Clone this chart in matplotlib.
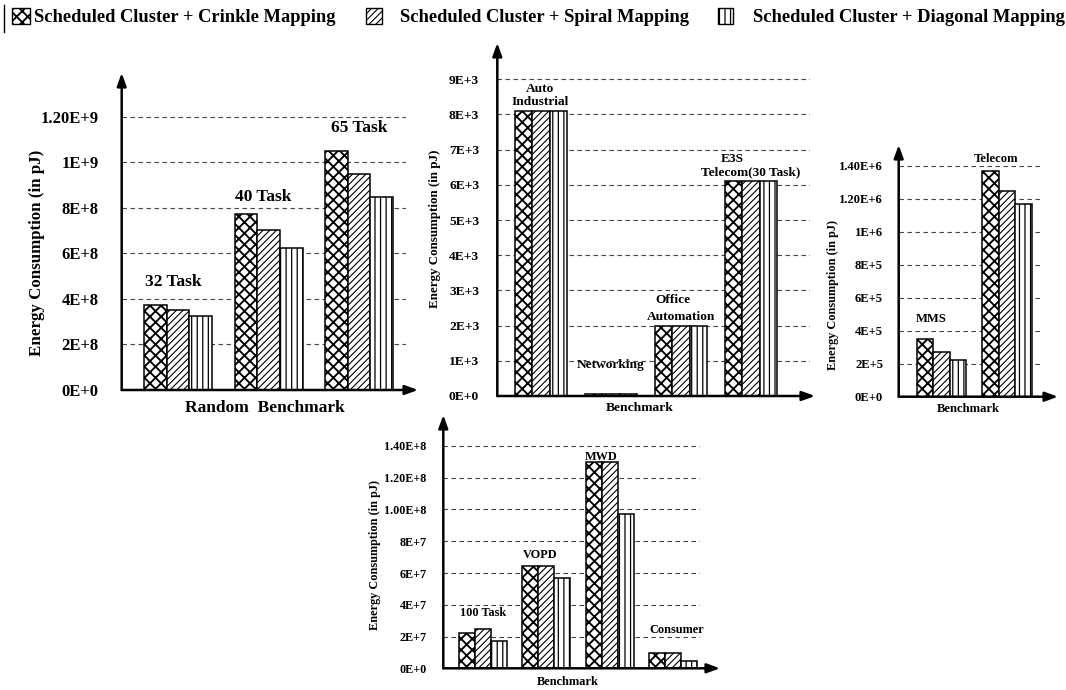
import matplotlib
matplotlib.use("Agg")
import matplotlib.pyplot as plt
from matplotlib.transforms import Affine2D
from matplotlib.patches import Rectangle
from matplotlib.lines import Line2D
import numpy as np

W, H = 1066, 690

# ---------------------------------------------------------------- data
series_names = [
    "Scheduled Cluster + Crinkle Mapping",
    "Scheduled Cluster + Spiral Mapping",
    "Scheduled Cluster + Diagonal Mapping",
]

# Random benchmark
random_groups = ["32 Task", "40 Task", "65 Task"]
random_crinkle = [3.73e8, 7.73e8, 1.049e9]
random_spiral = [3.51e8, 7.01e8, 9.48e8]
random_diagonal = [3.25e8, 6.25e8, 8.49e8]
random_ticks = [0, 2e8, 4e8, 6e8, 8e8, 1e9, 1.2e9]
random_ticklabels = ["0E+0", "2E+8", "4E+8", "6E+8", "8E+8", "1E+9", "1.20E+9"]

# E3S benchmark suites
e3s_groups = [["Auto", "Industrial"], ["Networking"], ["Office", "Automation"],
              ["E3S", "Telecom(30 Task)"]]
e3s_crinkle = [8.10e3, 60, 2.00e3, 6.12e3]
e3s_spiral = [8.10e3, 55, 2.00e3, 6.12e3]
e3s_diagonal = [8.10e3, 50, 2.00e3, 6.12e3]
e3s_ticks = [0, 1e3, 2e3, 3e3, 4e3, 5e3, 6e3, 7e3, 8e3, 9e3]
e3s_ticklabels = ["0E+0", "1E+3", "2E+3", "3E+3", "4E+3", "5E+3", "6E+3",
                  "7E+3", "8E+3", "9E+3"]

# MMS / Telecom
mms_groups = [["MMS"], ["Telecom"]]
mms_crinkle = [3.48e5, 1.370e6]
mms_spiral = [2.73e5, 1.246e6]
mms_diagonal = [2.25e5, 1.169e6]
mms_ticks = [0, 2e5, 4e5, 6e5, 8e5, 1e6, 1.2e6, 1.4e6]
mms_ticklabels = ["0E+0", "2E+5", "4E+5", "6E+5", "8E+5", "1E+6", "1.20E+6", "1.40E+6"]

# Multimedia benchmarks
media_groups = [["100 Task"], ["VOPD"], ["MWD"], ["Consumer"]]
media_crinkle = [2.20e7, 6.46e7, 1.301e8, 9.4e6]
media_spiral = [2.46e7, 6.46e7, 1.301e8, 9.4e6]
media_diagonal = [1.72e7, 5.69e7, 9.72e7, 4.4e6]
media_ticks = [0, 2e7, 4e7, 6e7, 8e7, 1e8, 1.2e8, 1.4e8]
media_ticklabels = ["0E+0", "2E+7", "4E+7", "6E+7", "8E+7", "1.00E+8", "1.20E+8", "1.40E+8"]

# ---------------------------------------------------------------- style
plt.rcParams["font.family"] = ["Liberation Serif", "DejaVu Serif"]
plt.rcParams["font.weight"] = "bold"
plt.rcParams["hatch.color"] = "black"

HATCHES = ["xxx", "/////", "|||"]
HATCH_LW = [1.35, 0.8, 0.9]
YLABEL = "Energy Consumption (in pJ)"

fig = plt.figure(figsize=(W / 100, H / 100), dpi=100)
# top-left pixel coordinate system for layout elements
PX = Affine2D().scale(1, -1).translate(0, H)


def add_px_axes(left, right, top, bottom):
    return fig.add_axes([left / W, (H - bottom) / H, (right - left) / W, (bottom - top) / H])


def hatched(patch, k):
    if hasattr(patch, "set_hatch_linewidth"):
        patch.set_hatch_linewidth(HATCH_LW[k])
    return patch


def panel(box, arrow_x, xlim, ymax, barw, series, ticks, ticklabels,
          tick_fs, tick_pad, labels, label_fs):
    left, right, top, bottom = box
    ax = add_px_axes(left, right, top, bottom)
    n = len(series[0])
    x = np.arange(n)
    for k, vals in enumerate(series):
        with plt.rc_context({"hatch.linewidth": HATCH_LW[k]}):
            bars = ax.bar(x + (k - 1) * barw, vals, width=barw, facecolor="white",
                          edgecolor="black", linewidth=1.1, hatch=HATCHES[k], zorder=3)
        for b in bars:
            hatched(b, k)
    ax.set_xlim(*xlim)
    ax.set_ylim(0, ymax)
    ax.set_yticks(ticks)
    ax.set_yticklabels(ticklabels, fontsize=tick_fs, fontweight="bold")
    ax.set_xticks([])
    ax.tick_params(axis="y", length=0, pad=tick_pad)
    for s in ax.spines.values():
        s.set_visible(False)
    for t in ticks[1:]:
        ax.axhline(t, color="#444444", linewidth=0.8, linestyle=(0, (4, 3.2)), zorder=1)
    xtip = (arrow_x - left) / (right - left)
    arrow = dict(arrowstyle="-|>,head_length=0.55,head_width=0.2", lw=1.8,
                 color="black", shrinkA=0, shrinkB=0, mutation_scale=14)
    ax.annotate("", xy=(0, 1), xytext=(0, 0), xycoords="axes fraction",
                arrowprops=arrow, annotation_clip=False, zorder=5)
    ax.annotate("", xy=(xtip, 0), xytext=(0, 0), xycoords="axes fraction",
                arrowprops=arrow, annotation_clip=False, zorder=5)
    for text, tx, ty in labels:
        ax.text(tx, ty, text, ha="center", va="center", fontsize=label_fs,
                fontweight="bold", zorder=6)
    return ax


# Random benchmark
panel((121.7, 406, 73, 390), 418, (-0.621, 2.517), 1.392e9, 0.25,
      [random_crinkle, random_spiral, random_diagonal],
      random_ticks, random_ticklabels, 12, 16.6,
      [(random_groups[0], -0.05, 4.74e8),
       (random_groups[1], 0.94, 8.47e8),
       (random_groups[2], 2.0, 1.150e9)], 12.5)
fig.text(37, 253, YLABEL, transform=PX, rotation=90, ha="center", va="center",
         fontsize=12.2, fontweight="bold")
fig.text(265, 408, "Random  Benchmark", transform=PX, ha="center", va="center",
         fontsize=12.5, fontweight="bold")

# E3S suites
panel((497.3, 810, 43, 396), 815, (-0.624, 3.843), 10.03e3, 0.247,
      [e3s_crinkle, e3s_spiral, e3s_diagonal],
      e3s_ticks, e3s_ticklabels, 9.7, 13,
      [(e3s_groups[0][0], -0.01, 8.72e3), (e3s_groups[0][1], -0.01, 8.35e3),
       (e3s_groups[1][0], 0.99, 0.88e3),
       (e3s_groups[2][0], 1.88, 2.73e3), (e3s_groups[2][1], 2.0, 2.24e3),
       (e3s_groups[3][0], 2.74, 6.73e3), (e3s_groups[3][1], 3.0, 6.37e3)], 9.6)
fig.text(435, 229, YLABEL, transform=PX, rotation=90, ha="center", va="center",
         fontsize=9.4, fontweight="bold")
fig.text(640, 408, "Benchmark", transform=PX, ha="center", va="center",
         fontsize=9.7, fontweight="bold")

# MMS / Telecom
panel((898.7, 1041.7, 145, 396.7), 1058, (-0.647, 1.526), 1.527e6, 0.25,
      [mms_crinkle, mms_spiral, mms_diagonal],
      mms_ticks, mms_ticklabels, 9.1, 11.3,
      [(mms_groups[0][0], -0.15, 4.71e5), (mms_groups[1][0], 0.84, 1.442e6)], 9.1)
fig.text(833, 295, YLABEL, transform=PX, rotation=90, ha="center", va="center",
         fontsize=8.8, fontweight="bold")
fig.text(968, 409, "Benchmark", transform=PX, ha="center", va="center",
         fontsize=9.1, fontweight="bold")

# Multimedia benchmarks
panel((443.3, 700, 415, 668.3), 720, (-0.62, 3.42), 1.595e8, 0.252,
      [media_crinkle, media_spiral, media_diagonal],
      media_ticks, media_ticklabels, 8.7, 12,
      [(media_groups[0][0], 0.0, 3.48e7), (media_groups[1][0], 0.9, 7.13e7),
       (media_groups[2][0], 1.87, 1.333e8), (media_groups[3][0], 3.05, 2.41e7)], 8.8)
fig.text(375, 555, YLABEL, transform=PX, rotation=90, ha="center", va="center",
         fontsize=8.8, fontweight="bold")
fig.text(568, 682, "Benchmark", transform=PX, ha="center", va="center",
         fontsize=8.9, fontweight="bold")

# ---------------------------------------------------------------- legend strip
fig.add_artist(Line2D([4, 4], [5, 32], transform=PX, color="black", linewidth=1.0))
legend_boxes = [(12, 30), (366, 382), (718, 733)]
legend_text_x = [34, 400, 753]
for k, name in enumerate(series_names):
    x0, x1 = legend_boxes[k]
    with plt.rc_context({"hatch.linewidth": HATCH_LW[k]}):
        box = Rectangle((x0, 8), x1 - x0, 16, transform=PX, facecolor="white",
                        edgecolor="black", linewidth=1.0, hatch=HATCHES[k])
    fig.add_artist(hatched(box, k))
    fig.text(legend_text_x[k], 18, name, transform=PX, ha="left", va="center",
             fontsize=13.3, fontweight="bold")

fig.savefig("out.png", dpi=100)
